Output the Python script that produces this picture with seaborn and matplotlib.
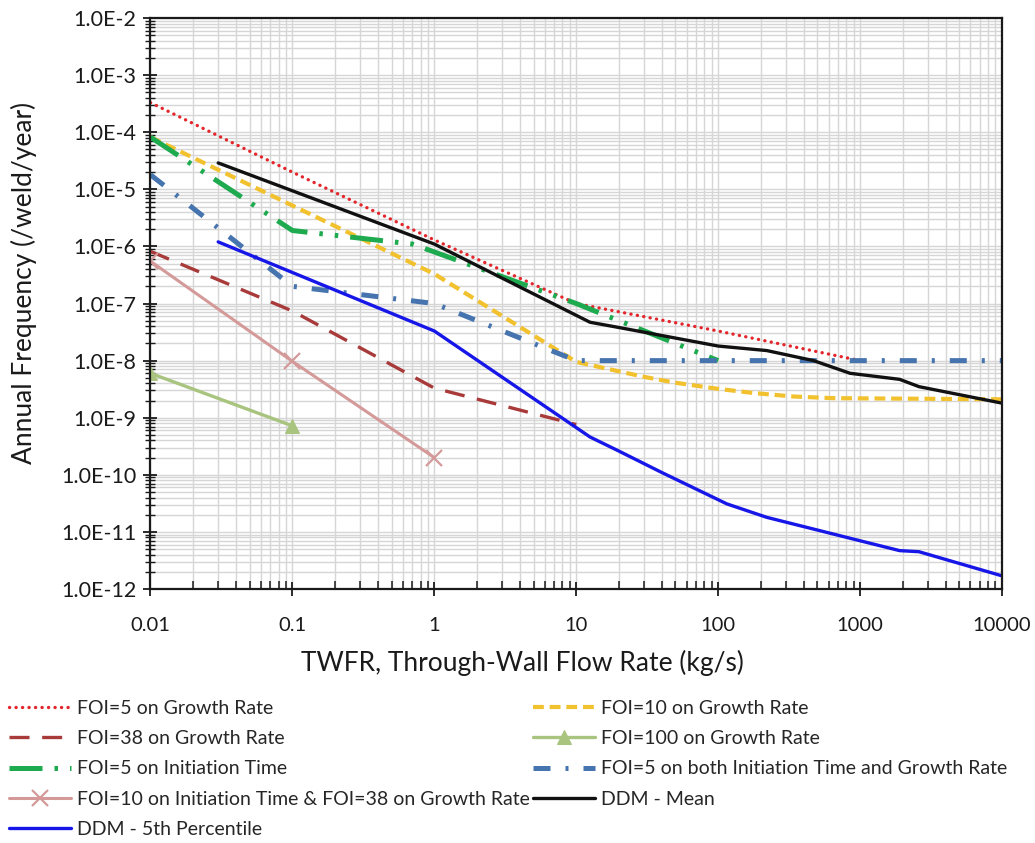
import matplotlib
matplotlib.use("Agg")
import numpy as np
import pandas as pd
import seaborn as sns
import matplotlib.pyplot as plt
from matplotlib.ticker import LogLocator, NullFormatter

# ---------------- data ----------------
x_tick_values = [0.01, 0.1, 1, 10, 100, 1000, 10000]
x_tick_labels = ["0.01", "0.1", "1", "10", "100", "1000", "10000"]
y_tick_values = [1e-12, 1e-11, 1e-10, 1e-9, 1e-8, 1e-7, 1e-6, 1e-5, 1e-4, 1e-3, 1e-2]
y_tick_labels = ["1.0E-12", "1.0E-11", "1.0E-10", "1.0E-9", "1.0E-8", "1.0E-7",
                 "1.0E-6", "1.0E-5", "1.0E-4", "1.0E-3", "1.0E-2"]

foi5_gr_x = [0.01, 0.1, 1, 10, 100, 1000]
foi5_gr_y = [3.3e-4, 2.0e-5, 1.3e-6, 1.0e-7, 3.3e-8, 1.0e-8]

foi10_gr_x = [0.01, 1, 10, 15, 30, 50, 100, 180, 340, 650, 10000]
foi10_gr_y = [8.2e-5, 3.3e-7, 9.5e-9, 7.6e-9, 5.2e-9, 4.1e-9, 3.2e-9, 2.7e-9, 2.35e-9, 2.2e-9, 2.1e-9]

foi38_gr_x = [0.01, 0.1, 1, 10]
foi38_gr_y = [8.2e-7, 7.4e-8, 3.3e-9, 7.6e-10]

foi100_gr_x = [0.01, 0.1]
foi100_gr_y = [6.0e-9, 7.2e-10]

foi5_init_x = [0.01, 0.1, 0.7, 1, 10, 12.5, 100]
foi5_init_y = [8.2e-5, 1.9e-6, 1.1e-6, 8.0e-7, 1.0e-7, 8.0e-8, 1.0e-8]

foi5_both_x = [0.01, 0.1, 1, 10, 100, 1000, 10000]
foi5_both_y = [1.8e-5, 2.0e-7, 1.0e-7, 1.0e-8, 1.0e-8, 1.0e-8, 1.0e-8]

foi10_init_38_x = [0.01, 0.1, 1]
foi10_init_38_y = [5.5e-7, 9.7e-9, 2.0e-10]

ddm_mean_x = [0.03, 1, 12.5, 20, 100, 220, 470, 850, 1900, 2600, 10000]
ddm_mean_y = [2.9e-5, 1.1e-6, 4.7e-8, 3.8e-8, 1.8e-8, 1.5e-8, 1.0e-8, 6.0e-9, 4.7e-9, 3.5e-9, 1.8e-9]

ddm_p5_x = [0.03, 1, 12.5, 20, 40, 115, 220, 1000, 1900, 2600, 10000]
ddm_p5_y = [1.2e-6, 3.3e-8, 4.6e-10, 2.6e-10, 1.1e-10, 3.1e-11, 1.8e-11, 7.0e-12, 4.7e-12, 4.5e-12, 1.7e-12]

labels = [
    "FOI=5 on Growth Rate",
    "FOI=10 on Growth Rate",
    "FOI=38 on Growth Rate",
    "FOI=100 on Growth Rate",
    "FOI=5 on Initiation Time",
    "FOI=5 on both Initiation Time and Growth Rate",
    "FOI=10 on Initiation Time & FOI=38 on Growth Rate",
    "DDM - Mean",
    "DDM - 5th Percentile",
]

# ---------------- figure ----------------
sns.set_theme(style="white")
plt.rcParams["font.family"] = ["Lato", "DejaVu Sans"]

fig = plt.figure(figsize=(10.35, 8.43), dpi=100)
ax = fig.add_axes([0.1454, 0.3013, 0.8227, 0.6773])
ax.set_xscale("log")
ax.set_yscale("log")

styles = [
    (foi5_gr_x, foi5_gr_y, dict(color="#E3262B", lw=2.4, linestyle=(0, (0.05, 1.9)),
                                dash_capstyle="round")),
    (foi10_gr_x, foi10_gr_y, dict(color="#F2C12E", lw=3.0, linestyle=(0, (2.6, 1.4)))),
    (foi38_gr_x, foi38_gr_y, dict(color="#A83A3A", lw=2.4, linestyle=(0, (6.0, 3.8)))),
    (foi100_gr_x, foi100_gr_y, dict(color="#A9C47F", lw=2.4, linestyle="-", marker="^",
                                    markersize=10, markeredgecolor="#A9C47F",
                                    markerfacecolor="#A9C47F")),
    (foi5_init_x, foi5_init_y, dict(color="#1EAA4E", lw=3.6,
                                    linestyle=(0, (6.6, 2.4, 0.7, 2.4, 0.7, 2.4)))),
    (foi5_both_x, foi5_both_y, dict(color="#4674AE", lw=3.6,
                                    linestyle=(0, (3.4, 3.0, 0.6, 3.0)))),
    (foi10_init_38_x, foi10_init_38_y, dict(color="#D49A99", lw=2.2, linestyle="-",
                                            marker="x", markersize=11,
                                            markeredgecolor="#D49A99",
                                            markeredgewidth=1.6)),
    (ddm_mean_x, ddm_mean_y, dict(color="#111111", lw=2.4, linestyle="-")),
    (ddm_p5_x, ddm_p5_y, dict(color="#1616E8", lw=2.4, linestyle="-")),
]

handles = []
for (xs, ys, kw), lab in zip(styles, labels):
    df = pd.DataFrame({"x": xs, "y": ys})
    sns.lineplot(data=df, x="x", y="y", ax=ax, sort=False, estimator=None,
                 legend=False, label=lab, **kw)
    handles.append(ax.lines[-1])

ax.set_xlim(0.01, 10000)
ax.set_ylim(1e-12, 1e-2)

ax.set_xticks(x_tick_values)
ax.set_xticklabels(x_tick_labels)
ax.set_yticks(y_tick_values)
ax.set_yticklabels(y_tick_labels)
ax.xaxis.set_minor_locator(LogLocator(base=10, subs=np.arange(2, 10), numticks=100))
ax.yaxis.set_minor_locator(LogLocator(base=10, subs=np.arange(2, 10), numticks=100))
ax.xaxis.set_minor_formatter(NullFormatter())
ax.yaxis.set_minor_formatter(NullFormatter())

ax.grid(True, which="both", color="#D6D6D6", lw=1.0)
ax.set_axisbelow(True)

for s in ax.spines.values():
    s.set_visible(True)
    s.set_color("#1A1A1A")
    s.set_linewidth(1.6)

ax.tick_params(axis="both", which="major", direction="inout", length=10, width=1.3,
               color="#1A1A1A", labelcolor="#1A1A1A")
ax.tick_params(axis="x", which="major", pad=15, labelsize=14.5)
ax.tick_params(axis="y", which="major", pad=5, labelsize=15.5)
ax.tick_params(axis="x", which="minor", direction="in", length=6, width=1.1, color="#1A1A1A")
ax.tick_params(axis="y", which="minor", direction="inout", length=7, width=1.0, color="#1A1A1A")
ax.xaxis.set_ticks_position("bottom")
ax.yaxis.set_ticks_position("left")

ax.set_xlabel("TWFR, Through-Wall Flow Rate (kg/s)", fontsize=19, color="#1A1A1A")
ax.set_ylabel("Annual Frequency (/weld/year)", fontsize=19, color="#1A1A1A")
ax.xaxis.set_label_coords((522 - 150.5) / 851.5, -(663 - 589) / 571, transform=ax.transAxes)
ax.yaxis.set_label_coords(-(150.5 - 24) / 851.5, (589 - 283) / 571, transform=ax.transAxes)
ax.xaxis.label.set_va("center")
ax.yaxis.label.set_va("center")

# legend: two fixed columns below the plot
col1 = [0, 2, 4, 6, 8]
col2 = [1, 3, 5, 7]
leg_kw = dict(loc="upper left", frameon=False, fontsize=14, handlelength=3.2,
              handletextpad=0.3, labelspacing=0.68, borderpad=0, borderaxespad=0,
              numpoints=1)
fig.legend([handles[i] for i in col1], [labels[i] for i in col1],
           bbox_to_anchor=(9 / 1035, 1 - 700 / 843), **leg_kw)
fig.legend([handles[i] for i in col2], [labels[i] for i in col2],
           bbox_to_anchor=(533 / 1035, 1 - 700 / 843), **leg_kw)

fig.savefig("out.png", dpi=100)
